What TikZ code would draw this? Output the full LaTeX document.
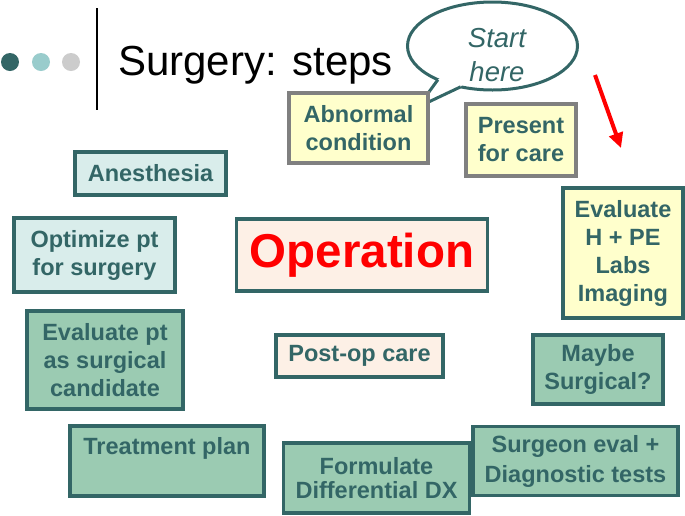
\documentclass[tikz,border=0pt]{standalone}
\usepackage{fontspec}
\setmainfont{Liberation Sans}
\usetikzlibrary{arrows.meta}
\definecolor{tealdk}{RGB}{51,102,102}
\definecolor{tealdot}{RGB}{153,204,204}
\definecolor{graydot}{RGB}{204,204,204}
\definecolor{yelfill}{RGB}{255,255,204}
\definecolor{cyanfill}{RGB}{217,237,235}
\definecolor{greenfill}{RGB}{155,203,178}
\definecolor{peachfill}{RGB}{253,240,230}
\definecolor{grayedge}{RGB}{128,128,128}
\definecolor{redarr}{RGB}{255,0,0}
\tikzset{
  boxbase/.style={rectangle, line width=3.5pt, draw=tealdk, text=tealdk, align=center,
    inner sep=0pt, font=\fontsize{23.5}{28}\selectfont\bfseries},
  ybox/.style={boxbase, fill=yelfill, draw=grayedge},
  yboxt/.style={boxbase, fill=yelfill},
  cbox/.style={boxbase, fill=cyanfill},
  gbox/.style={boxbase, fill=greenfill},
  pbox/.style={boxbase, fill=peachfill},
  dotst/.style={circle, inner sep=0pt, minimum size=18pt},
}
\begin{document}
\begin{tikzpicture}[x=1pt,y=-1pt]
\useasboundingbox[fill=white] (0,0) rectangle (685,515);
% title decoration
\node[dotst, fill=tealdk] (d1) at (10,62) {};
\node[dotst, fill=tealdot] (d2) at (41,62) {};
\node[dotst, fill=graydot] (d3) at (71,62) {};
\coordinate (vtop) at (97,8);
\coordinate (vbot) at (97,110);
\draw[line width=2.5pt] (vtop) -- (vbot);
\node[anchor=base west, inner sep=0pt, font=\fontsize{42}{48}\selectfont] (title) at (118,75) {Surgery: steps};
% speech bubble
\draw[line width=3pt, draw=tealdk, fill=white] (492.5,46) ellipse [x radius=85, y radius=44];
\coordinate (tb1) at (437.9,79.7);
\coordinate (tb2) at (460.7,86.8);
\coordinate (tip) at (418,107);
\fill[white] (443.3,76.3) -- (tb1) -- (tip) -- (tb2) -- (463.8,82.7) -- cycle;
\draw[line width=3pt, draw=tealdk, line join=miter] (tb1) -- (tip) -- (tb2);
\node[align=center, text=tealdk, inner sep=0pt, font=\fontsize{27.5}{34}\selectfont\itshape] (start) at (497,55) {Start\\here};
% red arrow
\coordinate (arrS) at (595,75);
\coordinate (arrE) at (621,148);
\draw[redarr, line width=4pt, -{Triangle[length=15pt,width=14pt]}] (arrS) -- (arrE);
% boxes
\node[ybox, minimum width=139, minimum height=70] (abn) at (358.5,128) {Abnormal\\condition};
\node[ybox, minimum width=110, minimum height=72] (present) at (521,140) {Present\\for care};
\node[yboxt, minimum width=120, minimum height=130] (evalH) at (623,253) {Evaluate\\H + PE\\Labs\\Imaging};
\node[cbox, minimum width=151, minimum height=43] (anes) at (150.5,173.5) {Anesthesia};
\node[cbox, minimum width=161, minimum height=74] (optim) at (94.5,255) {Optimize pt\\for surgery};
\node[gbox, minimum width=156, minimum height=98] (evalpt) at (105,360) {Evaluate pt\\as surgical\\candidate};
\node[pbox, minimum width=251, minimum height=72, text=redarr, font=\fontsize{47.5}{52}\selectfont\bfseries] (oper) at (362,255) {Operation};
\node[pbox, minimum width=167, minimum height=42] (postop) at (359.5,356) {Post-op care};
\node[gbox, minimum width=130, minimum height=69] (maybe) at (598,369.5) {Maybe\\Surgical?};
\node[gbox, minimum width=194, minimum height=70] (treat) at (167,461) {};
\node[anchor=base, inner sep=0pt, text=tealdk, font=\fontsize{23.5}{28}\selectfont\bfseries] (treatlbl) at (167,454) {Treatment plan};
\node[gbox, minimum width=186, minimum height=70, font=\fontsize{23.5}{24}\selectfont\bfseries] (formul) at (376.5,478) {Formulate\\Differential DX};
\node[gbox, minimum width=205, minimum height=69, font=\fontsize{23.5}{30}\selectfont\bfseries] (surgeon) at (575.5,461) {Surgeon eval +\\Diagnostic tests};
\end{tikzpicture}
\end{document}
